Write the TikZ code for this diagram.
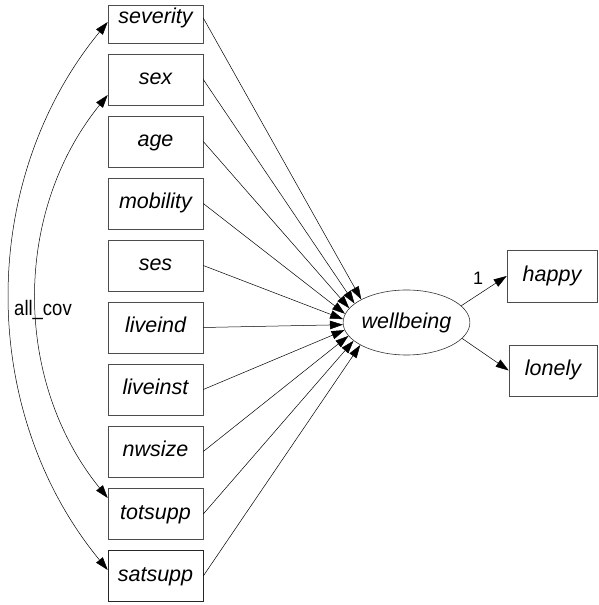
\documentclass[tikz,border=0pt]{standalone}
\usepackage{fontspec}
\setmainfont{Liberation Sans}
\newfontfamily\condfont[FakeStretch=0.88]{Liberation Sans}
\usetikzlibrary{arrows.meta,calc,shapes.geometric}
\begin{document}
\begin{tikzpicture}[x=1pt,y=1pt,
  box/.style={draw=black!70, line width=0.55pt, minimum width=95pt, minimum height=51pt,
    inner sep=0pt, text height=15.5pt, text depth=4.5pt,
    font=\fontsize{21.5}{24}\selectfont\itshape},
  lat/.style={ellipse, draw=black!80, line width=0.6pt, minimum width=123pt, minimum height=65pt,
    inner sep=0pt, font=\fontsize{21.5}{24}\selectfont\itshape},
  reg/.style={-{Triangle[length=13pt,width=8.5pt]}, line width=0.5pt},
  cov/.style={{Triangle[length=13pt,width=8.5pt]}-{Triangle[length=13pt,width=8.5pt]}, line width=0.5pt}
]
\useasboundingbox (0,0) rectangle (598,605);
% observed variables (left)
\node[box, minimum height=38pt, text depth=16.5pt] (sev) at (155.5,581) {severity};
\node[box] (sex) at (155.5,525.5) {sex};
\node[box] (age) at (155.5,463.5) {age};
\node[box] (mob) at (155.5,401.5) {mobility};
\node[box] (ses) at (155.5,339.5) {ses};
\node[box] (lvi) at (155.5,277.5) {liveind};
\node[box] (lvs) at (155.5,215.5) {liveinst};
\node[box] (nws) at (155.5,153.5) {nwsize};
\node[box] (tot) at (155.5,91) {totsupp};
\node[box, draw=black!85] (sat) at (155.5,29) {satsupp};
% latent
\node[lat] (w) at (406.5,282.5) {wellbeing};
% indicators
\node[box, minimum width=90pt, minimum height=52pt] (hap) at (552,329) {happy};
\node[box, minimum width=88pt] (lon) at (553,234.5) {lonely};
% regressions
\coordinate (sevout) at ($(sev.east)+(0,6)$);
\draw[reg] (sevout) -- (w.153.8);
\draw[reg] (sex.east) -- (w.160.8);
\draw[reg] (age.east) -- (w.166.8);
\draw[reg] (mob.east) -- (w.172.3);
\draw[reg] (ses.east) -- (w.177.5);
\draw[reg] (lvi.east) -- (w.182.5);
\draw[reg] (lvs.east) -- (w.187.7);
\draw[reg] (nws.east) -- (w.193.2);
\draw[reg] (tot.east) -- (w.199.2);
\draw[reg] (sat.east) -- (w.206.2);
% loadings
\draw[reg] (w.17) -- (hap.west);
\draw[reg] (w.-16) -- (lon.west);
\node[font=\fontsize{18}{20}\selectfont] (one) at (478,327) {1};
% covariances
\coordinate (sevin) at ($(sev.west)+(0,2)$);
\coordinate (satin) at ($(sat.west)+(0,6)$);
\coordinate (sexin) at ($(sex.west)+(0,-15.5)$);
\coordinate (totin) at ($(tot.west)+(0,16)$);
\draw[cov] (sevin) to[out=230.6,in=129.4,looseness=0.96] (satin);
\draw[cov] (sexin) to[out=231,in=129,looseness=0.96] (totin);
\node[font=\condfont\fontsize{21}{23}\selectfont] (cl) at (43,295) {all\_cov};
\end{tikzpicture}
\end{document}
